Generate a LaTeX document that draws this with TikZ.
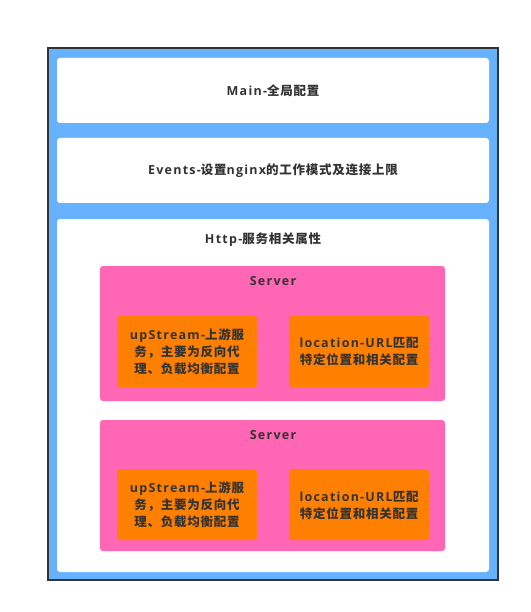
\documentclass[tikz,border=0pt]{standalone}
\usepackage{fontspec}
\setmainfont{Open Sans}[BoldFont={Open Sans Bold},BoldFeatures={LetterSpace=10}]
\newfontfamily\cj{Noto Sans CJK SC Bold}[LetterSpace=6]
\begin{document}
\begin{tikzpicture}[x=1pt,y=-1pt,
  lbl/.style={font=\fontsize{12.5}{17}\selectfont\bfseries, text=txt, inner sep=0pt, align=center},
  whitebox/.style={fill=white, rounded corners=3pt, draw=none},
  srvbox/.style={fill=srv, rounded corners=3pt, draw=none},
  orbox/.style={fill=orng, rounded corners=3pt, draw=none}]
\definecolor{txt}{HTML}{333333}
\definecolor{blu}{HTML}{66B2FF}
\definecolor{srv}{HTML}{FF66B3}
\definecolor{orng}{HTML}{FF8000}
\useasboundingbox (0,0) rectangle (530,612);
\fill[white] (0,0) rectangle (530,612);
\draw[fill=blu, draw=txt, line width=2pt] (48,48) rectangle (498,580);
\fill[whitebox] (57,58) rectangle (489,123);
\fill[whitebox] (57,138) rectangle (489,203);
\fill[whitebox] (57,219) rectangle (489,572);
\node[lbl] (main) at (273,91) {Main-{\cj 全局配置}};
\node[lbl] (events) at (273,171) {Events-{\cj 设置}nginx{\cj 的工作模式及连接上限}};
\node[lbl] (http) at (263,240) {Http-{\cj 服务相关属性}};
% server 1
\fill[srvbox] (100,266) rectangle (445,401);
\node[lbl] (s1) at (273,281) {Server};
\fill[orbox] (117,316) rectangle (257,387);
\fill[orbox] (289,316) rectangle (429,387);
\node[lbl] (up1) at (187,352) {upStream-{\cj 上游服}\\{\cj 务，主要为反向代}\\{\cj 理、负载均衡配置}};
\node[lbl] (loc1) at (359,351) {location-URL{\cj 匹配}\\{\cj 特定位置和相关配置}};
% server 2
\fill[srvbox] (100,420) rectangle (445,551);
\node[lbl] (s2) at (273,435) {Server};
\fill[orbox] (117,469) rectangle (257,540);
\fill[orbox] (289,469) rectangle (429,540);
\node[lbl] (up2) at (187,505) {upStream-{\cj 上游服}\\{\cj 务，主要为反向代}\\{\cj 理、负载均衡配置}};
\node[lbl] (loc2) at (359,505) {location-URL{\cj 匹配}\\{\cj 特定位置和相关配置}};
\end{tikzpicture}
\end{document}
